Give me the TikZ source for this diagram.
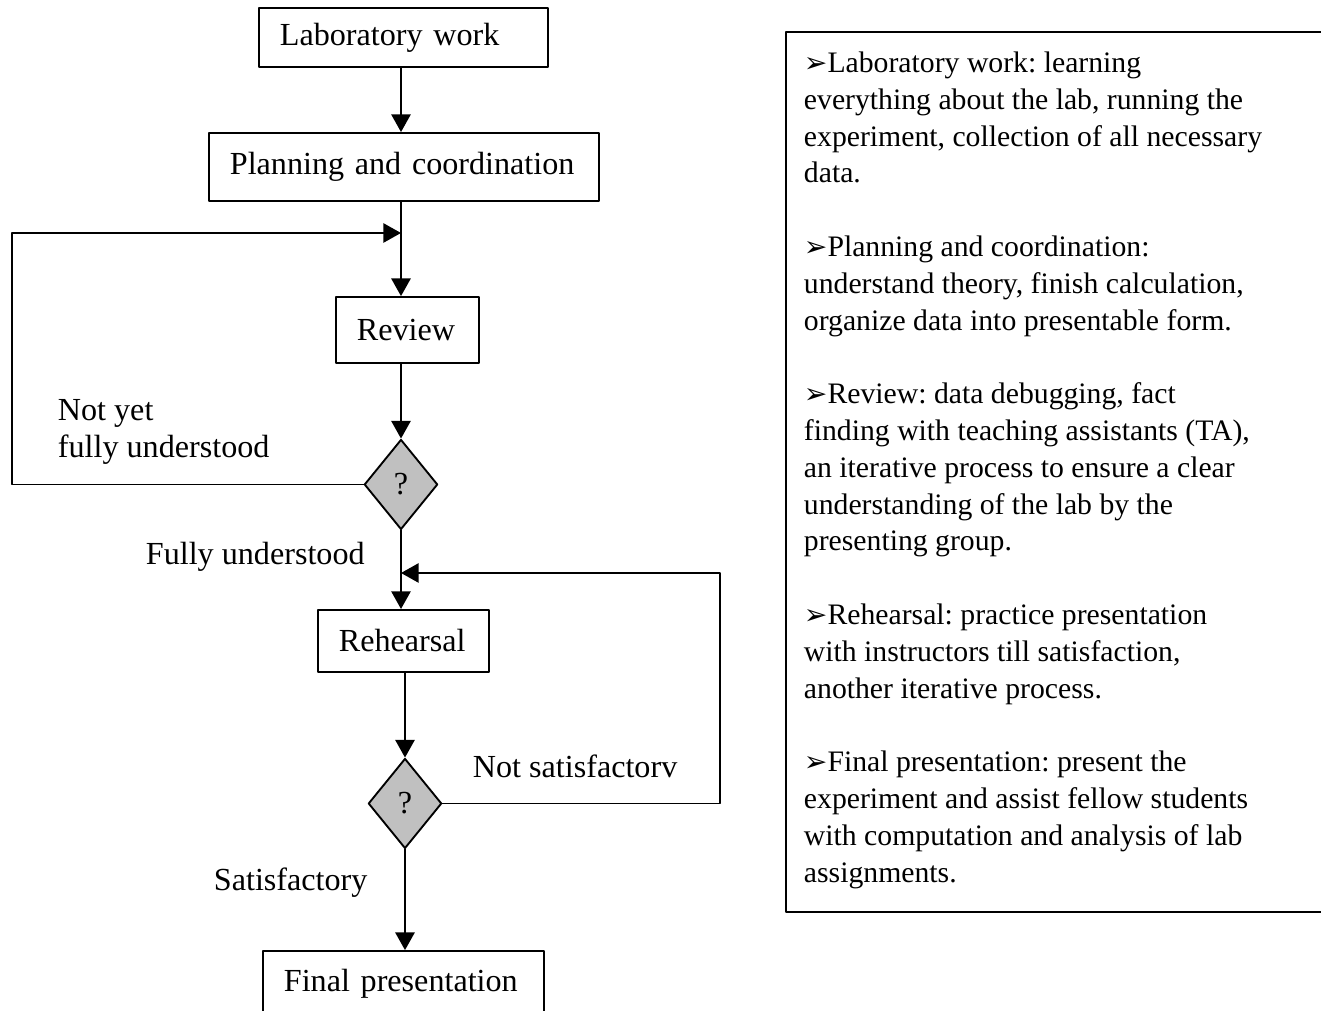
\documentclass[tikz,border=0pt]{standalone}
\usepackage{fontspec}
\setmainfont{Liberation Serif}
\newfontfamily\dingfont{DejaVu Sans}
\usetikzlibrary{arrows.meta,shapes.geometric}
\definecolor{askgray}{HTML}{C0C0C0}
\newcommand{\notebullet}{{\dingfont\fontsize{10.5}{10.5}\selectfont ➢}}
\frenchspacing
\begin{document}
\begin{tikzpicture}[x=0.3734pt,y=-0.3734pt,line cap=round,line join=round,line width=0.7pt,
    >={Triangle[length=6.6pt,width=7.2pt]},font=\fontsize{12}{13.74}\selectfont,
    stepbox/.style={draw,rectangle,inner xsep=7.8pt,inner ysep=0pt,align=left},
    askbox/.style={draw,diamond,fill=askgray,inner sep=0pt,minimum width=27.4pt,minimum height=33.6pt},
    lbl/.style={anchor=base west,inner sep=0pt}]
    \useasboundingbox (0,0) rectangle (1321,1011);
    \clip (0,0) rectangle (1321,1011);
    % flow chart
    \node[stepbox,text width=92.3pt,minimum height=22pt] (lab) at (403.5,37.5) {Laboratory work};
    \node[stepbox,text width=130pt,minimum height=25.4pt] (plan) at (404,167) {Planning and coordination};
    \node[stepbox,text width=37.8pt,minimum height=24.6pt] (review) at (407.5,330) {Review};
    \node[askbox] (q1) at (401,484.5) {?};
    \node[stepbox,text width=48.3pt,minimum height=23.2pt] (rehearse) at (403.5,641) {Rehearsal};
    \node[askbox] (q2) at (405,803.5) {?};
    \node[stepbox,text width=89.3pt,minimum height=24.6pt] (final) at (403.5,984) {Final presentation};
    \coordinate (backL) at (12,233);
    \coordinate (join1) at (401,233);
    \coordinate (backR) at (720,573);
    \coordinate (join2) at (401,573);
    \draw[->] (lab.south -| q1) -- (plan.north -| q1);
    \draw[->] (plan.south -| q1) -- (review.north -| q1);
    \draw[->] (review.south -| q1) -- (q1.north);
    \draw[->] (q1.south) -- (rehearse.north -| q1);
    \draw[->] (rehearse.south -| q2) -- (q2.north);
    \draw[->] (q2.south) -- (final.north -| q2);
    \draw[->] (q1.west) -| (backL) -- (join1);
    \draw[->] (q2.east) -| (backR) -- (join2);
    \node[anchor=north west,inner sep=0pt,align=left] (notyet) at (57,399) {Not yet\\fully understood};
    \node[lbl] (fully) at (145,565) {Fully understood};
    \node[lbl] (notsat) at (472,778) {Not satisfactorv};
    \node[lbl] (satis) at (213,891) {Satisfactory};
    % notes on the right
    \draw (786,32) rectangle (1340,912);
    \node[anchor=north west,inner sep=0pt,align=left,font=\fontsize{11.1}{13.74}\selectfont] (notes) at (803,51) {%
        \notebullet Laboratory work: learning\\
        everything about the lab, running the\\
        experiment, collection of all necessary\\
        data.\\[13.74pt]
        \notebullet Planning and coordination:\\
        understand theory, finish calculation,\\
        organize data into presentable form.\\[13.74pt]
        \notebullet Review: data debugging, fact\\
        finding with teaching assistants (TA),\\
        an iterative process to ensure a clear\\
        understanding of the lab by the\\
        presenting group.\\[13.74pt]
        \notebullet Rehearsal: practice presentation\\
        with instructors till satisfaction,\\
        another iterative process.\\[13.74pt]
        \notebullet Final presentation: present the\\
        experiment and assist fellow students\\
        with computation and analysis of lab\\
        assignments.};
\end{tikzpicture}
\end{document}
